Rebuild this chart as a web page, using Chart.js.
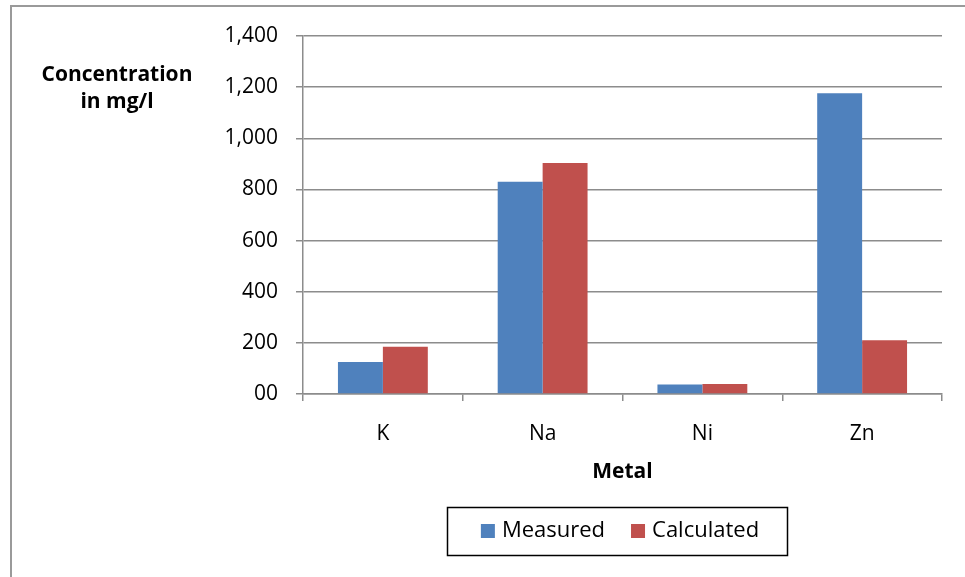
<!DOCTYPE html>
<html>
<head>
<meta charset="utf-8">
<script src="https://cdn.jsdelivr.net/npm/chart.js@4.4.0/dist/chart.umd.min.js"></script>
<style>
  html, body { margin:0; padding:0; background:#fff; }
  #wrap { position:relative; width:965px; height:577px; overflow:hidden; }
  #frame { position:absolute; left:10px; top:5px; width:1000px; height:700px; border:2px solid #9a9a9a; }
  #chart { position:absolute; left:0; top:0; }
</style>
</head>
<body>
<div id="wrap">
  <div id="frame"></div>
  <canvas id="chart" width="965" height="577"></canvas>
</div>
<script>
// values
const metals = ['K', 'Na', 'Ni', 'Zn'];
const measured = [125, 830, 37, 1176];
const calculated = [185, 903, 39, 210];
const yTickLabels = ['00', '200', '400', '600', '800', '1,000', '1,200', '1,400'];
const yTitleLines = ['Concentration', 'in mg/l'];
const xTitle = 'Metal';

const FONT = '"Open Sans", Lato, "Liberation Sans", sans-serif';
Chart.defaults.font.family = FONT;
Chart.defaults.color = '#000';

// horizontal y title and a boxed legend, like the spreadsheet original
const extras = {
  id: 'extras',
  afterDraw(chart){
    const ctx = chart.ctx;
    ctx.save();
    ctx.fillStyle = '#000';
    ctx.textAlign = 'center';
    ctx.textBaseline = 'middle';
    ctx.font = 'bold 21px ' + FONT;
    ctx.fillText(yTitleLines[0], 117, 75);
    ctx.fillText(yTitleLines[1], 117, 102);

    // legend
    ctx.font = '22px ' + FONT;
    const items = chart.data.datasets.map(d => ({label:d.label, color:d.backgroundColor, w:ctx.measureText(d.label).width}));
    const sq = 14, gap = 7, between = 26;
    const total = items.reduce((a,it)=>a + sq + gap + it.w, 0) + between*(items.length-1);
    const cx = 620, cy = 531;
    ctx.strokeStyle = '#000';
    ctx.lineWidth = 1.5;
    ctx.strokeRect(447.5, 507.5, 340, 48);
    let x = cx - total/2;
    ctx.textAlign = 'left';
    items.forEach(it=>{
      ctx.fillStyle = it.color;
      ctx.fillRect(x, cy - sq/2, sq, sq);
      x += sq + gap;
      ctx.fillStyle = '#000';
      ctx.fillText(it.label, x, cy);
      x += it.w + between;
    });
    ctx.restore();
  }
};

new Chart(document.getElementById('chart').getContext('2d'), {
  type: 'bar',
  data: {
    labels: metals,
    datasets: [
      {label:'Measured', data:measured, backgroundColor:'#4F81BD', categoryPercentage:0.5625, barPercentage:1},
      {label:'Calculated', data:calculated, backgroundColor:'#C0504D', categoryPercentage:0.5625, barPercentage:1}
    ]
  },
  options: {
    responsive: false,
    animation: false,
    devicePixelRatio: 1,
    layout: { padding: {top:36, right:23, bottom:92, left:0} },
    plugins: { legend:{display:false}, tooltip:{enabled:false} },
    scales: {
      x: {
        afterFit(scale){ scale.height = 91; },
        grid: { display:true, drawOnChartArea:false, tickLength:7, color:'#8c8c8c', lineWidth:1.5 },
        border: { color:'#8c8c8c', width:1.5 },
        ticks: { font:{size:21}, padding:20 },
        title: { display:true, text:xTitle, font:{size:21, weight:'bold'}, padding:{top:0, bottom:0} }
      },
      y: {
        min: 0, max: 1400,
        afterFit(scale){ scale.width = 303; },
        grid: { color:'#8c8c8c', lineWidth:1.5, tickLength:7 },
        border: { color:'#8c8c8c', width:1.5 },
        ticks: { stepSize:200, font:{size:21}, padding:18, callback:(v,i)=>yTickLabels[i] }
      }
    }
  },
  plugins: [extras]
});
</script>
</body>
</html>
